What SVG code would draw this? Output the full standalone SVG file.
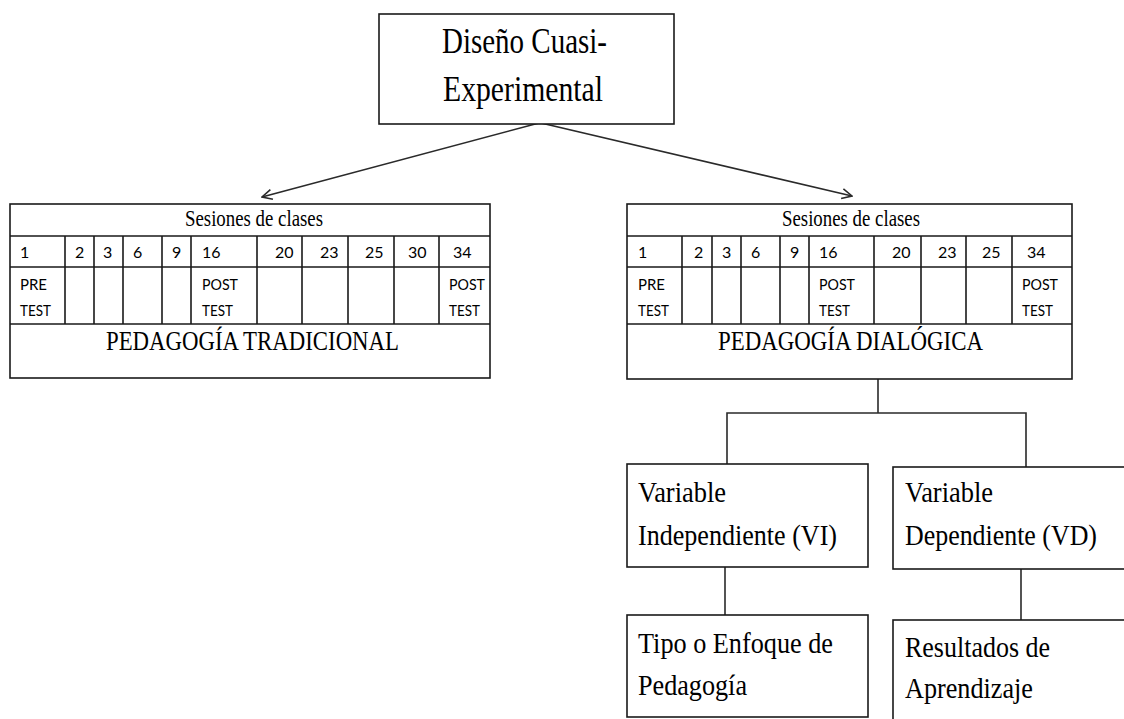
<svg xmlns="http://www.w3.org/2000/svg" width="1124" height="719" viewBox="0 0 1124 719">
  <style>
    .box { fill: #ffffff; stroke: #1a1a1a; stroke-width: 1.6; }
    .grid { stroke: #1a1a1a; stroke-width: 1.6; fill: none; }
    .conn { stroke: #2a2a2a; stroke-width: 1.6; fill: none; }
    .serif { font-family: "Liberation Serif", "Times New Roman", serif; fill: #000; }
    .sans { font-family: Lato, "Open Sans", "Liberation Sans", sans-serif; fill: #000; font-size: 16px; }
    .title { font-size: 35px; }
    .head { font-size: 23px; }
    .label { font-size: 28px; }
    .node { font-size: 30px; }
  </style>
  <defs>
    <marker id="open" viewBox="0 0 12 12" refX="11" refY="6" markerWidth="12" markerHeight="12" markerUnits="userSpaceOnUse" orient="auto">
      <path d="M1,1 L11,6 L1,11" fill="none" stroke="#2a2a2a" stroke-width="1.6"/>
    </marker>
  </defs>

  <rect width="1124" height="719" fill="#ffffff"/>

  <!-- connectors -->
  <g id="connectors">
    <line class="conn" x1="539" y1="123" x2="262" y2="197" marker-end="url(#open)"/>
    <line class="conn" x1="541" y1="123" x2="852" y2="196" marker-end="url(#open)"/>
    <polyline class="conn" points="878,379 878,413"/>
    <polyline class="conn" points="727,465 727,413 1026,413 1026,467"/>
    <line class="conn" x1="725" y1="567" x2="725" y2="615"/>
    <line class="conn" x1="1021" y1="569" x2="1021" y2="620"/>
  </g>

  <!-- top node -->
  <g id="diseno">
    <rect class="box" x="379" y="14" width="295" height="110"/>
    <text class="serif title" x="442" y="53" textLength="165" lengthAdjust="spacingAndGlyphs">Diseño Cuasi-</text>
    <text class="serif title" x="443" y="101" textLength="160" lengthAdjust="spacingAndGlyphs">Experimental</text>
  </g>

  <!-- traditional pedagogy table -->
  <g id="tradicional">
    <rect class="box" x="10" y="204" width="480" height="174"/>
    <path class="grid" d="M10,236 H490 M10,267 H490 M10,324 H490
      M65,236 V324 M94,236 V324 M123,236 V324 M162,236 V324 M191,236 V324
      M257,236 V324 M302,236 V324 M348,236 V324 M394,236 V324 M439,236 V324"/>
    <text class="serif head" x="185" y="226" textLength="138" lengthAdjust="spacingAndGlyphs">Sesiones de clases</text>
    <g class="sans">
      <text x="20" y="258">1</text>
      <text x="75" y="258">2</text>
      <text x="103" y="258">3</text>
      <text x="133" y="258">6</text>
      <text x="172" y="258">9</text>
      <text x="202" y="258">16</text>
      <text x="275" y="258">20</text>
      <text x="320" y="258">23</text>
      <text x="365" y="258">25</text>
      <text x="408" y="258">30</text>
      <text x="453" y="258">34</text>
      <text x="20" y="290" textLength="27" lengthAdjust="spacingAndGlyphs">PRE</text>
      <text x="20" y="316" textLength="31" lengthAdjust="spacingAndGlyphs">TEST</text>
      <text x="202" y="290" textLength="36" lengthAdjust="spacingAndGlyphs">POST</text>
      <text x="202" y="316" textLength="31" lengthAdjust="spacingAndGlyphs">TEST</text>
      <text x="449" y="290" textLength="36" lengthAdjust="spacingAndGlyphs">POST</text>
      <text x="449" y="316" textLength="31" lengthAdjust="spacingAndGlyphs">TEST</text>
    </g>
    <text class="serif label" x="106" y="350" textLength="293" lengthAdjust="spacingAndGlyphs">PEDAGOGÍA TRADICIONAL</text>
  </g>

  <!-- dialogic pedagogy table -->
  <g id="dialogica">
    <rect class="box" x="627" y="204" width="445" height="175"/>
    <path class="grid" d="M627,236 H1072 M627,267 H1072 M627,324 H1072
      M682,236 V324 M712,236 V324 M741,236 V324 M780,236 V324 M809,236 V324
      M874,236 V324 M921,236 V324 M966,236 V324 M1012,236 V324"/>
    <text class="serif head" x="782" y="226" textLength="138" lengthAdjust="spacingAndGlyphs">Sesiones de clases</text>
    <g class="sans">
      <text x="638" y="258">1</text>
      <text x="694" y="258">2</text>
      <text x="722" y="258">3</text>
      <text x="751" y="258">6</text>
      <text x="790" y="258">9</text>
      <text x="819" y="258">16</text>
      <text x="892" y="258">20</text>
      <text x="938" y="258">23</text>
      <text x="982" y="258">25</text>
      <text x="1027" y="258">34</text>
      <text x="638" y="290" textLength="27" lengthAdjust="spacingAndGlyphs">PRE</text>
      <text x="638" y="316" textLength="31" lengthAdjust="spacingAndGlyphs">TEST</text>
      <text x="819" y="290" textLength="36" lengthAdjust="spacingAndGlyphs">POST</text>
      <text x="819" y="316" textLength="31" lengthAdjust="spacingAndGlyphs">TEST</text>
      <text x="1022" y="290" textLength="36" lengthAdjust="spacingAndGlyphs">POST</text>
      <text x="1022" y="316" textLength="31" lengthAdjust="spacingAndGlyphs">TEST</text>
    </g>
    <text class="serif label" x="718" y="350" textLength="265" lengthAdjust="spacingAndGlyphs">PEDAGOGÍA DIALÓGICA</text>
  </g>

  <!-- independent variable -->
  <g id="vi">
    <rect class="box" x="627" y="464" width="241" height="103"/>
    <text class="serif node" x="638" y="502" textLength="88" lengthAdjust="spacingAndGlyphs">Variable</text>
    <text class="serif node" x="638" y="545" textLength="199" lengthAdjust="spacingAndGlyphs">Independiente (VI)</text>
  </g>

  <!-- dependent variable (box runs past the right edge) -->
  <g id="vd">
    <rect class="box" x="893" y="467" width="240" height="102"/>
    <text class="serif node" x="905" y="502" textLength="88" lengthAdjust="spacingAndGlyphs">Variable</text>
    <text class="serif node" x="905" y="545" textLength="192" lengthAdjust="spacingAndGlyphs">Dependiente (VD)</text>
  </g>

  <!-- pedagogy type -->
  <g id="tipo">
    <rect class="box" x="627" y="615" width="241" height="102"/>
    <text class="serif node" x="638" y="653" textLength="195" lengthAdjust="spacingAndGlyphs">Tipo o Enfoque de</text>
    <text class="serif node" x="638" y="695" textLength="109" lengthAdjust="spacingAndGlyphs">Pedagogía</text>
  </g>

  <!-- learning outcomes -->
  <g id="resultados">
    <rect class="box" x="893" y="620" width="240" height="110"/>
    <text class="serif node" x="905" y="657" textLength="145" lengthAdjust="spacingAndGlyphs">Resultados de</text>
    <text class="serif node" x="905" y="698" textLength="128" lengthAdjust="spacingAndGlyphs">Aprendizaje</text>
  </g>
</svg>
